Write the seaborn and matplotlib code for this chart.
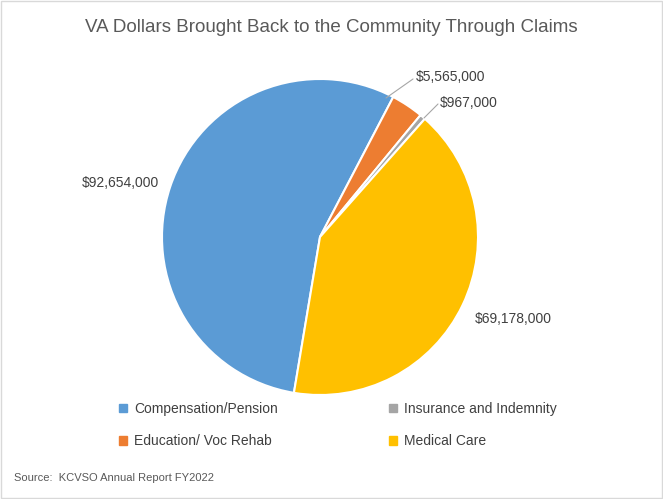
import matplotlib
matplotlib.use("Agg")
import matplotlib.pyplot as plt
import seaborn as sns
from matplotlib.patches import Rectangle, Patch

sns.set_theme(style="white")
plt.rcParams['font.family'] = ['Liberation Sans', 'DejaVu Sans']

categories = ["Compensation/Pension", "Education/ Voc Rehab", "Insurance and Indemnity", "Medical Care"]
values = [92654000, 5565000, 967000, 69178000]
labels = ["$92,654,000", "$5,565,000", "$967,000", "$69,178,000"]
colors = ["#5B9BD5", "#ED7D31", "#A5A5A5", "#FFC000"]

W, H = 663, 499
fig = plt.figure(figsize=(6.63, 4.99), dpi=100)
fig.patches.append(Rectangle((0.002, 0.002), 0.996, 0.996, transform=fig.transFigure,
                             fill=False, edgecolor="#D9D9D9", linewidth=1))
cx, cy, r = 320, 237, 158
ax = fig.add_axes([(cx - r) / W, (H - cy - r) / H, 2 * r / W, 2 * r / H])
ax.pie(values, colors=colors, startangle=-99.5, counterclock=False, radius=1,
       wedgeprops=dict(edgecolor="white", linewidth=1.5))
ax.set_xlim(-1, 1); ax.set_ylim(-1, 1); ax.set_aspect("equal")
ax.axis("off")

def px(x, y):
    return ((x - cx) / r, (cy - y) / r)

lab_pos = [(120, 183, "center"), (416, 77, "left"), (440, 103, "left"), (513, 319, "center")]
for (x, y, ha), t in zip(lab_pos, labels):
    ax.text(*px(x, y), t, ha=ha, va="center", fontsize=10, color="#404040", clip_on=False)
ax.plot(*zip(px(386, 98), px(413, 79)), color="#A6A6A6", lw=0.8, clip_on=False)
ax.plot(*zip(px(424, 118), px(438, 104)), color="#A6A6A6", lw=0.8, clip_on=False)

fig.text(331 / W, 1 - 28 / H, "VA Dollars Brought Back to the Community Through Claims",
         ha="center", va="center", fontsize=13.5, color="#595959")

handles = [Patch(color=c) for c in colors]
order = [0, 1, 2, 3]
leg = fig.legend([handles[i] for i in order], [categories[i] for i in order],
                 loc="center", bbox_to_anchor=(338 / W, 1 - 425 / H), ncol=2, frameon=False,
                 fontsize=10, handlelength=0.6, handleheight=0.6, columnspacing=8,
                 labelspacing=1.3, handletextpad=0.5)
for t in leg.get_texts():
    t.set_color("#404040")

fig.text(14 / W, 1 - 478 / H, "Source:  KCVSO Annual Report FY2022", ha="left", va="center",
         fontsize=8, color="#595959")

fig.savefig("out.png", dpi=100, facecolor="white")
